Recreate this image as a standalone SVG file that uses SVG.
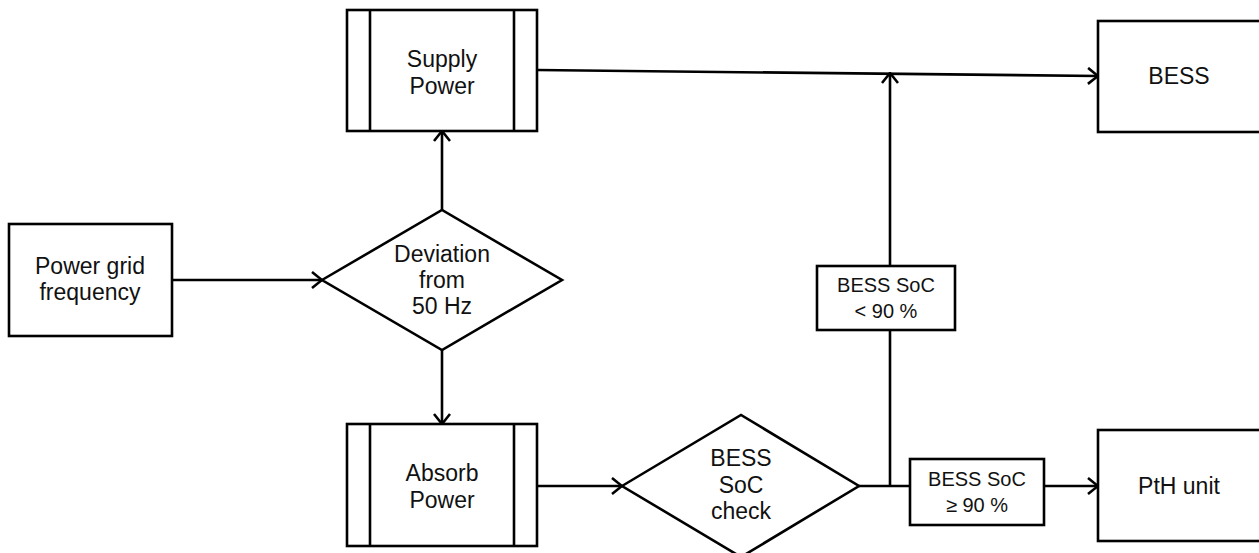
<svg xmlns="http://www.w3.org/2000/svg" width="1259" height="553" viewBox="0 0 1259 553">
<style>
.box{fill:#fff;stroke:#000;stroke-width:2.6}
.ln{fill:none;stroke:#000;stroke-width:2.6}
.t{font-family:"Liberation Sans",Arial,sans-serif;font-size:23px;fill:#111;text-anchor:middle}
.s{font-family:"Liberation Sans",Arial,sans-serif;font-size:20px;fill:#111;text-anchor:middle}
</style>
<defs>
<marker id="arr" viewBox="0 0 12 18" refX="11" refY="9" markerWidth="12" markerHeight="18" markerUnits="userSpaceOnUse" orient="auto">
<path d="M1,1 L11,9 L1,17" fill="none" stroke="#000" stroke-width="2.6"/>
</marker>
</defs>
<g id="connectors">
<line class="ln" x1="172" y1="280" x2="322" y2="280" marker-end="url(#arr)"/>
<line class="ln" x1="442" y1="210" x2="442" y2="131" marker-end="url(#arr)"/>
<line class="ln" x1="442" y1="350" x2="442" y2="424" marker-end="url(#arr)"/>
<line class="ln" x1="537" y1="70" x2="1098" y2="76" marker-end="url(#arr)"/>
<line class="ln" x1="537" y1="486" x2="622" y2="486" marker-end="url(#arr)"/>
<polyline class="ln" points="859,486 890,486 910,486"/>
<line class="ln" x1="890" y1="486" x2="890" y2="330"/>
<line class="ln" x1="890" y1="266" x2="890" y2="73" marker-end="url(#arr)"/>
<line class="ln" x1="1044" y1="486" x2="1098" y2="486" marker-end="url(#arr)"/>
</g>
<g id="power-grid-frequency">
<rect class="box" x="9" y="224" width="163" height="112"/>
<text class="t" x="90" y="274">Power grid</text>
<text class="t" x="90" y="300">frequency</text>
</g>
<g id="deviation">
<polygon class="box" points="322,280 442,210 562,280 442,350"/>
<text class="t" x="442" y="262">Deviation</text>
<text class="t" x="442" y="288">from</text>
<text class="t" x="442" y="314">50 Hz</text>
</g>
<g id="supply-power">
<rect class="box" x="347" y="10" width="190" height="121"/>
<line class="ln" x1="370" y1="10" x2="370" y2="131"/>
<line class="ln" x1="514" y1="10" x2="514" y2="131"/>
<text class="t" x="442" y="67">Supply</text>
<text class="t" x="442" y="94">Power</text>
</g>
<g id="absorb-power">
<rect class="box" x="347" y="424" width="190" height="122"/>
<line class="ln" x1="370" y1="424" x2="370" y2="546"/>
<line class="ln" x1="514" y1="424" x2="514" y2="546"/>
<text class="t" x="442" y="481">Absorb</text>
<text class="t" x="442" y="508">Power</text>
</g>
<g id="bess-soc-check">
<polygon class="box" points="622,486 741,415 859,486 741,557"/>
<text class="t" x="741" y="466">BESS</text>
<text class="t" x="741" y="493">SoC</text>
<text class="t" x="741" y="519">check</text>
</g>
<g id="soc-below-90">
<rect class="box" x="817" y="266" width="138" height="64"/>
<text class="s" x="886" y="292">BESS SoC</text>
<text class="s" x="886" y="318">&lt; 90 %</text>
</g>
<g id="soc-above-90">
<rect class="box" x="910" y="459" width="134" height="66"/>
<text class="s" x="977" y="486">BESS SoC</text>
<text class="s" x="977" y="512">≥ 90 %</text>
</g>
<g id="bess">
<rect class="box" x="1098" y="21" width="170" height="111"/>
<text class="t" x="1179" y="84">BESS</text>
</g>
<g id="pth-unit">
<rect class="box" x="1098" y="430" width="170" height="111"/>
<text class="t" x="1179" y="494">PtH unit</text>
</g>
</svg>
